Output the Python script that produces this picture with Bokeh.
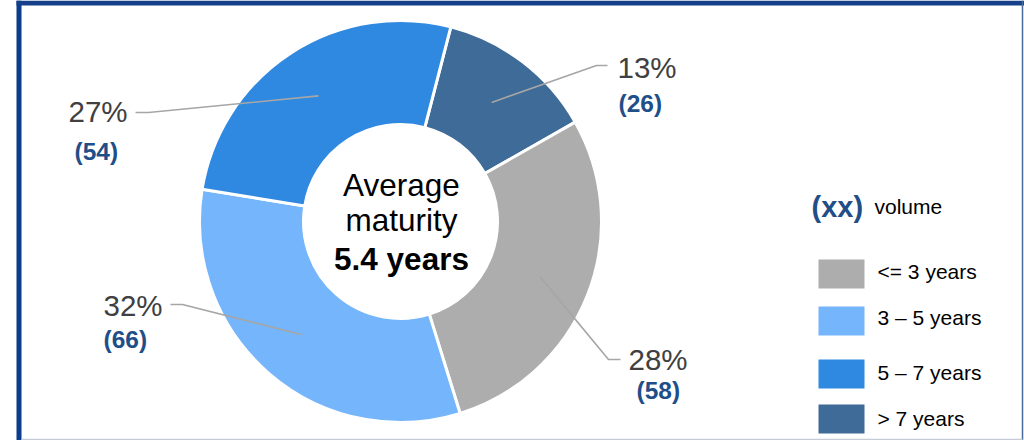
import math
from bokeh.plotting import figure
from bokeh.models import Range1d
from bokeh.core.properties import value
from bokeh.embed import file_html
from bokeh.resources import INLINE

# ---- data (clockwise order starting from the top slice) ----
categories = ["> 7 years", "<= 3 years", "3 – 5 years", "5 – 7 years"]
volumes = [26, 58, 66, 54]
pct_labels = ["13%", "28%", "32%", "27%"]
vol_labels = ["(26)", "(58)", "(66)", "(54)"]
colors = ["#3E6B98", "#ADADAD", "#75B5FC", "#2F89E1"]
legend_order = ["<= 3 years", "3 – 5 years", "5 – 7 years", "> 7 years"]
center_lines = ["Average", "maturity", "5.4 years"]

# ---- layout (window pixel coordinates, y downwards) ----
W, H = 1024, 440
CX, CY = 400, 221
R_IN, R_OUT = 97, 201
START_DEG = 14.5  # clockwise from 12 o'clock

pct_pos = [(617, 67), (628, 359), (103, 305), (68, 111)]
vol_pos = [(618, 103), (636, 390), (103, 339), (74, 151)]
elbows = [(596, 65), (608, 359), (182, 304), (148, 112)]
ends = [(607, 65), (620, 359), (170, 304), (135, 112)]
legend_y = [273.5, 320.5, 373.5, 418.5]
legend_text_y = [271, 317, 372, 418]
center_mid = [184, 219, 258]


def Y(wy):
    return H - wy


p = figure(width=W, height=H, output_backend="svg", toolbar_location=None,
           x_range=Range1d(0, W), y_range=Range1d(0, H), min_border=0)
p.axis.visible = False
p.grid.visible = False
p.outline_line_color = None
p.background_fill_color = "white"
p.border_fill_color = "white"

total = float(sum(volumes))
cum = 0.0
for i, v in enumerate(volumes):
    a0 = START_DEG + cum / total * 360.0
    a1 = START_DEG + (cum + v) / total * 360.0
    cum += v
    p.annular_wedge(x=CX, y=Y(CY), inner_radius=R_IN, outer_radius=R_OUT,
                    start_angle=math.radians(90 - a0), end_angle=math.radians(90 - a1),
                    direction="clock", fill_color=colors[i], line_color="white",
                    line_width=3)
    mid = math.radians((a0 + a1) / 2.0)
    sx = CX + 150 * math.sin(mid)
    sy = CY - 150 * math.cos(mid)
    ex, ey = elbows[i]
    tx, ty = ends[i]
    p.line(x=[sx, ex, tx], y=[Y(sy), Y(ey), Y(ty)], line_color="#A6A6A6", line_width=1.6)
    p.text(x=[pct_pos[i][0]], y=[Y(pct_pos[i][1])], text=[pct_labels[i]],
           text_font=value("Liberation Sans"), text_font_size="29.5px",
           text_color="#404040", text_align="left", text_baseline="middle")
    p.text(x=[vol_pos[i][0]], y=[Y(vol_pos[i][1])], text=[vol_labels[i]],
           text_font=value("Liberation Sans"), text_font_size="24.5px",
           text_font_style="bold", text_color="#1F4E89", text_align="left",
           text_baseline="middle")

# center text
for j, t in enumerate(center_lines):
    p.text(x=[CX + 1], y=[Y(center_mid[j])], text=[t],
           text_font=value("Liberation Sans"), text_font_size="31.5px",
           text_font_style="bold" if j == 2 else "normal",
           text_color="black", text_align="center", text_baseline="middle")

# legend
p.text(x=[811], y=[Y(206)], text=["(xx)"], text_font=value("Liberation Sans"),
       text_font_size="29px", text_font_style="bold", text_color="#1F4E89",
       text_align="left", text_baseline="middle")
p.text(x=[874], y=[Y(206)], text=["volume"], text_font=value("Liberation Sans"),
       text_font_size="21px", text_color="black", text_align="left",
       text_baseline="middle")
for k, name in enumerate(legend_order):
    c = colors[categories.index(name)]
    p.rect(x=[841], y=[Y(legend_y[k])], width=46, height=29, fill_color=c, line_color=None)
    p.text(x=[877], y=[Y(legend_text_y[k])], text=[name], text_font=value("Liberation Sans"),
           text_font_size="21px", text_color="black", text_align="left",
           text_baseline="middle")

# frame
p.quad(left=[16], right=[21], bottom=[Y(H)], top=[Y(0)], fill_color="#0B3D8C", line_color=None)
p.quad(left=[16], right=[W], bottom=[Y(5)], top=[Y(0)], fill_color="#153F88", line_color=None)
p.line(x=[1022, 1022], y=[Y(0), Y(H)], line_color="#4A6A9A", line_width=1.5)
p.line(x=[21, 1022], y=[Y(439), Y(439)], line_color="#C5CCD8", line_width=1.5)

open("out.html", "w").write(file_html(p, INLINE))
